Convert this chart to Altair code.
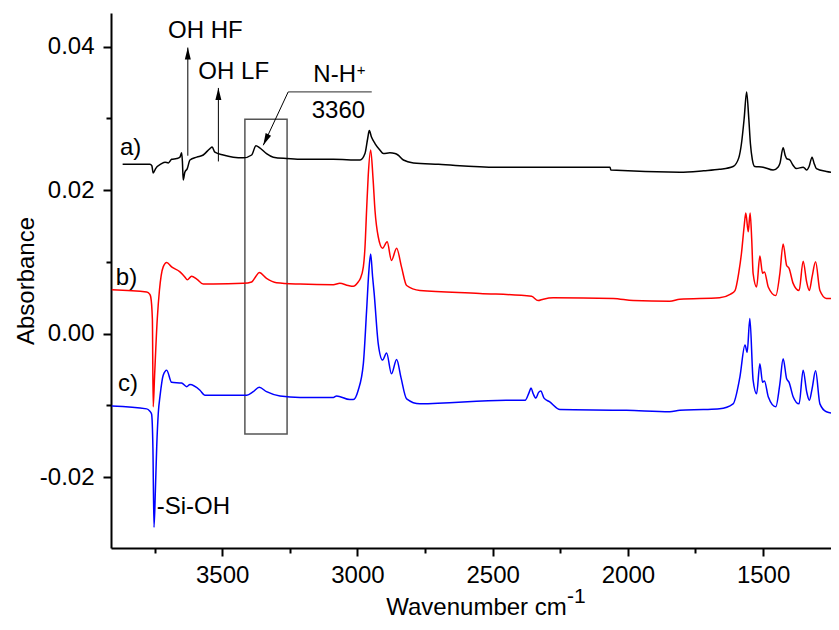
import altair as alt
import pandas as pd

# ---- spectra (wavenumber cm-1, absorbance) ----
wn_a = [3868, 3767, 3760, 3755, 3746, 3724, 3711, 3699, 3687, 3668, 3656, 3650, 3647, 3644, 3638,
        3629, 3619, 3594, 3570, 3545, 3537, 3527, 3496, 3459, 3422, 3391, 3375, 3361, 3336, 3311,
        3262, 3212, 3089, 2990, 2972, 2962, 2956, 2948, 2935, 2917, 2904, 2880, 2861, 2850, 2830,
        2793, 2700, 2485, 2066, 2063, 1808, 1720, 1661, 1611, 1590, 1580, 1570, 1561, 1553, 1547,
        1540, 1531, 1500, 1463, 1445, 1438, 1426, 1418, 1413, 1401, 1390, 1377, 1352, 1345, 1339,
        1330, 1319, 1312, 1303, 1266, 1220]
abs_a = [0.0236, 0.0236, 0.0234, 0.0224, 0.0230, 0.0237, 0.0239, 0.0238, 0.0243, 0.0244, 0.0246,
         0.0252, 0.0240, 0.0214, 0.0225, 0.0230, 0.0242, 0.0246, 0.0249, 0.0258, 0.0260, 0.0253,
         0.0249, 0.0246, 0.0245, 0.0249, 0.0262, 0.0259, 0.0251, 0.0246, 0.0244, 0.0243, 0.0243,
         0.0242, 0.0251, 0.0272, 0.0283, 0.0274, 0.0265, 0.0256, 0.0251, 0.0252, 0.0251, 0.0249,
         0.0242, 0.0238, 0.0236, 0.0232, 0.0232, 0.0228, 0.0225, 0.0227, 0.0229, 0.0233, 0.0245,
         0.0265, 0.0300, 0.0337, 0.0300, 0.0265, 0.0243, 0.0233, 0.0232, 0.0228, 0.0232, 0.0237,
         0.0259, 0.0248, 0.0244, 0.0242, 0.0235, 0.0230, 0.0232, 0.0230, 0.0228, 0.0233, 0.0246,
         0.0238, 0.0230, 0.0226, 0.0224]

wn_b = [3908, 3779, 3768, 3764, 3758, 3755, 3750, 3740, 3732, 3718, 3705, 3687, 3656, 3638, 3629,
        3613, 3594, 3570, 3533, 3422, 3391, 3375, 3363, 3336, 3299, 3212, 3089, 3065, 3034, 3015,
        2997, 2990, 2978, 2972, 2966, 2960, 2951, 2942, 2935, 2923, 2907, 2890, 2874, 2855, 2837,
        2818, 2769, 2547, 2356, 2332, 2313, 2276, 2054, 1980, 1845, 1808, 1661, 1620, 1604, 1590,
        1580, 1570, 1564, 1555, 1548, 1542, 1537, 1524, 1512, 1502, 1495, 1481, 1453, 1438, 1426,
        1413, 1404, 1389, 1367, 1352, 1339, 1329, 1319, 1306, 1290, 1266, 1241, 1220]
abs_b = [0.0061, 0.0058, 0.0055, 0.0051, 0.0020, -0.0102, -0.0060, 0.0020, 0.0060, 0.0093, 0.0099,
         0.0093, 0.0086, 0.0079, 0.0075, 0.0080, 0.0076, 0.0069, 0.0069, 0.0070, 0.0072, 0.0080,
         0.0085, 0.0077, 0.0071, 0.0069, 0.0068, 0.0070, 0.0067, 0.0066, 0.0072, 0.0076, 0.0093,
         0.0120, 0.0172, 0.0220, 0.0256, 0.0215, 0.0172, 0.0135, 0.0119, 0.0128, 0.0102, 0.0119,
         0.0093, 0.0067, 0.0060, 0.0056, 0.0052, 0.0046, 0.0048, 0.0050, 0.0049, 0.0046, 0.0045,
         0.0048, 0.0050, 0.0055, 0.0060, 0.0085, 0.0112, 0.0150, 0.0168, 0.0142, 0.0168, 0.0130,
         0.0084, 0.0065, 0.0108, 0.0084, 0.0086, 0.0065, 0.0053, 0.0084, 0.0125, 0.0095, 0.0091,
         0.0070, 0.0060, 0.0101, 0.0072, 0.0060, 0.0079, 0.0100, 0.0060, 0.0049, 0.0049, 0.0052]

wn_c = [3908, 3779, 3768, 3761, 3756, 3752, 3747, 3742, 3736, 3730, 3718, 3705, 3687, 3650, 3631,
        3619, 3582, 3564, 3409, 3385, 3363, 3336, 3286, 3212, 3089, 3077, 3028, 3015, 2997, 2978,
        2966, 2958, 2951, 2944, 2938, 2923, 2907, 2892, 2874, 2855, 2839, 2818, 2769, 2450, 2380,
        2365, 2358, 2350, 2340, 2330, 2322, 2310, 2290, 2251, 2005, 1845, 1808, 1721, 1661, 1611,
        1586, 1567, 1559, 1549, 1537, 1524, 1512, 1502, 1495, 1481, 1453, 1438, 1426, 1413, 1404,
        1389, 1367, 1352, 1339, 1329, 1319, 1306, 1290, 1266, 1241, 1220]
abs_c = [-0.0101, -0.0105, -0.0108, -0.0112, -0.0160, -0.0270, -0.0220, -0.0158, -0.0110, -0.0088,
         -0.0058, -0.0051, -0.0068, -0.0069, -0.0074, -0.0071, -0.0079, -0.0086, -0.0086, -0.0081,
         -0.0075, -0.0081, -0.0087, -0.0089, -0.0089, -0.0087, -0.0092, -0.0092, -0.0079, -0.0042,
         0.0032, 0.0085, 0.0111, 0.0080, 0.0056, -0.0014, -0.0037, -0.0027, -0.0056, -0.0036,
         -0.0061, -0.0091, -0.0098, -0.0093, -0.0093, -0.0082, -0.0076, -0.0084, -0.0090, -0.0082,
         -0.0080, -0.0090, -0.0095, -0.0106, -0.0107, -0.0109, -0.0107, -0.0106, -0.0105, -0.0098,
         -0.0061, -0.0016, -0.0026, 0.0021, -0.0065, -0.0084, -0.0042, -0.0068, -0.0066, -0.0088,
         -0.0102, -0.0070, -0.0035, -0.0063, -0.0068, -0.0088, -0.0098, -0.0051, -0.0081, -0.0093,
         -0.0077, -0.0052, -0.0098, -0.0109, -0.0111, -0.0109]

series_names = ["a", "b", "c"]
series_colors = ["#000000", "#ff0000", "#0000ff"]

x_ticks = [3750, 3500, 3250, 3000, 2750, 2500, 2250, 2000, 1750, 1500]
y_ticks = [-0.02, -0.01, 0.0, 0.01, 0.02, 0.03, 0.04]

# ---- annotations (data coordinates) ----
label_text = ["OH HF", "OH LF", "N-H", "3360", "-Si-OH", "a)", "b)", "c)"]
label_wn = [3700, 3588, 3163, 3169, 3742, 3878, 3893, 3885]
label_ab = [0.0412, 0.03556, 0.0351, 0.0300, -0.0251, 0.02487, 0.00674, -0.0080]

sup_text = ["+"]
sup_wn = [3002]
sup_ab = [0.0360]

arrow_wn = [3627, 3514, 3256]
arrow_ab = [0.0248, 0.0240, 0.03369]
arrow_wn2 = [3627, 3514, 3348]
arrow_ab2 = [0.03988, 0.03425, 0.02626]
arrow_angle = [0, 0, 205]

under_wn = [3256]
under_ab = [0.03369]
under_wn2 = [2947]
under_ab2 = [0.03369]

box_wn = [3416]
box_ab = [0.0299]
box_wn2 = [3260]
box_ab2 = [-0.0140]

# ---- tables ----
rows = []
for s, ws, vs in zip(series_names, [wn_a, wn_b, wn_c], [abs_a, abs_b, abs_c]):
    for w, v in zip(ws, vs):
        rows.append({"series": s, "wn": w, "ab": v})
spec = pd.DataFrame(rows)

labels = pd.DataFrame({"text": label_text, "wn": label_wn, "ab": label_ab})
sups = pd.DataFrame({"text": sup_text, "wn": sup_wn, "ab": sup_ab})
arrows = pd.DataFrame({"wn": arrow_wn, "ab": arrow_ab, "wn2": arrow_wn2, "ab2": arrow_ab2,
                       "ang": arrow_angle})
under = pd.DataFrame({"wn": under_wn, "ab": under_ab, "wn2": under_wn2, "ab2": under_ab2})
box = pd.DataFrame({"wn": box_wn, "ab": box_ab, "wn2": box_wn2, "ab2": box_ab2})

FONT = "Liberation Sans"

x_scale = alt.Scale(domain=[3911, 1249], nice=False, zero=False)
y_scale = alt.Scale(domain=[-0.0299, 0.0447], nice=False, zero=False)

x_axis = alt.Axis(
    values=x_ticks,
    labelExpr="round(datum.value) % 500 == 0 ? '' + round(datum.value) : ''",
    tickSize={"condition": {"test": "round(datum.value) % 500 == 0", "value": 8}, "value": 5},
    labelPadding=7,
    title="Wavenumber cm",
    titleX=365, titleY=66.5, titleAlign="center", titleBaseline="alphabetic",
    grid=False,
)
y_axis = alt.Axis(
    values=y_ticks,
    labelExpr="abs(round(datum.value * 100)) % 2 == 0 ? (datum.value < -0.0001 ? '-' : '') + format(abs(datum.value), '.2f') : ''",
    tickSize={"condition": {"test": "abs(round(datum.value * 100)) % 2 == 0", "value": 8}, "value": 5},
    labelPadding=9,
    title="Absorbance",
    titleAngle=270, titleX=-78, titleY=267.5, titleAlign="center", titleBaseline="alphabetic",
    grid=False,
)

X = alt.X("wn:Q", scale=x_scale, axis=x_axis)
Y = alt.Y("ab:Q", scale=y_scale, axis=y_axis)

lines = alt.Chart(spec).mark_line(strokeWidth=1.5, clip=True, interpolate="monotone").encode(
    x=X, y=Y,
    color=alt.Color("series:N", scale=alt.Scale(domain=series_names, range=series_colors), legend=None),
    detail="series:N",
)

box_layer = alt.Chart(box).mark_rect(fillOpacity=0, stroke="#555555", strokeWidth=1.5).encode(
    x=X, y=Y, x2="wn2:Q", y2="ab2:Q"
)

under_layer = alt.Chart(under).mark_rule(color="#555555", strokeWidth=1.3).encode(
    x=X, y=Y, x2="wn2:Q", y2="ab2:Q"
)

arrow_lines = alt.Chart(arrows).mark_rule(color="black", strokeWidth=1).encode(
    x=X, y=Y, x2="wn2:Q", y2="ab2:Q"
)

arrow_heads = alt.Chart(arrows).mark_point(
    shape="M0,0 L0.25,1 L-0.25,1 Z", filled=True, size=576, color="black", opacity=1
).encode(
    x=alt.X("wn2:Q", scale=x_scale, axis=x_axis),
    y=alt.Y("ab2:Q", scale=y_scale, axis=y_axis),
    angle=alt.Angle("ang:Q", scale=None),
)

text_layer = alt.Chart(labels).mark_text(
    font=FONT, fontSize=24, align="left", baseline="alphabetic", color="black"
).encode(x=X, y=Y, text="text:N")

sup_layer = alt.Chart(sups).mark_text(
    font=FONT, fontSize=15, align="left", baseline="alphabetic", color="black"
).encode(x=X, y=Y, text="text:N")

xsup = alt.Chart(pd.DataFrame({"t": ["-1"]})).mark_text(
    font=FONT, fontSize=21, align="left", baseline="alphabetic", color="black"
).encode(x=alt.value(456), y=alt.value(589.5), text="t:N")

chart = alt.layer(
    box_layer, under_layer, arrow_lines, arrow_heads, lines, text_layer, sup_layer, xsup
).properties(
    width=720, height=535,
    autosize="none",
    padding={"left": 103, "top": 5, "right": 0, "bottom": 72},
).configure_axis(
    labelFont=FONT, labelFontSize=24, labelColor="black",
    titleFont=FONT, titleFontSize=24, titleFontWeight="normal", titleColor="black",
    domainColor="black", domainWidth=2, tickColor="black", tickWidth=2,
).configure_view(stroke="transparent")

chart.save("out.html", embed_options={"renderer": "svg", "actions": False})
